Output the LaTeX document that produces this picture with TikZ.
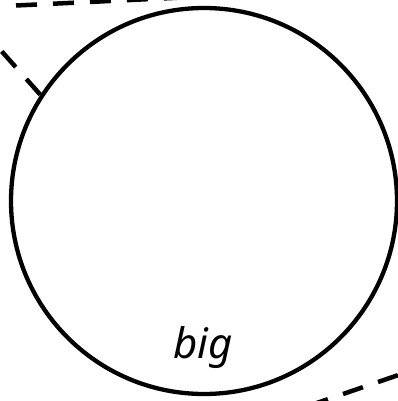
\documentclass[tikz,border=0pt]{standalone}
\usepackage{fontspec}
\setmainfont{Noto Sans}
\begin{document}
\begin{tikzpicture}[x=1pt,y=1pt,
  bigcircle/.style={draw, circle, line width=4.3pt, minimum size=386pt, inner sep=0pt},
  dashedge/.style={line width=4.5pt, dash pattern=on 21pt off 16pt},
  labeltext/.style={font=\itshape\fontsize{42}{44}\selectfont, inner sep=0pt}]
\useasboundingbox (0,0) rectangle (398,-401);
\node[bigcircle] (big) at (204,-201) {};
\node[labeltext, anchor=base] (biglabel) at (203,-358) {big};
\coordinate (ltop) at (16,-5.5);
\coordinate (rtop) at (220,4.3);
\draw[dashedge] (ltop) -- (rtop);
\coordinate (lfar) at (-20,-27);
\draw[dashedge] (big.147.3) -- (lfar);
\coordinate (brA) at (432.9,-363.2);
\coordinate (brB) at (280,-415.6);
\draw[dashedge] (brA) -- (brB);
\end{tikzpicture}
\end{document}
